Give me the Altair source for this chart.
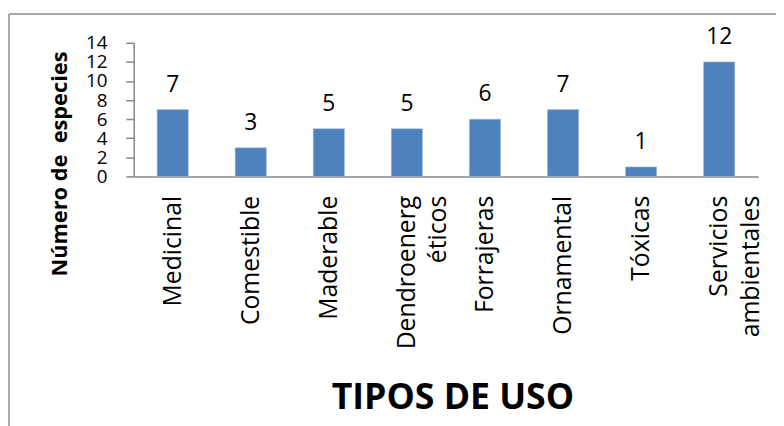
import altair as alt
import pandas as pd

categories = ["Medicinal", "Comestible", "Maderable", "Dendroenerg|éticos",
              "Forrajeras", "Ornamental", "Tóxicas", "Servicios|ambientales"]
values = [7, 3, 5, 5, 6, 7, 1, 12]
y_ticks = [0, 2, 4, 6, 8, 10, 12, 14]

df = pd.DataFrame({"tipo": categories, "n": values})

FONT = "Open Sans"
GRAY = "#868686"

x_scale = alt.Scale(paddingInner=0.6, paddingOuter=0.3)
y_scale = alt.Scale(domain=[0, 14], nice=False, zero=True)

x_enc = alt.X(
    "tipo:N", sort=None, scale=x_scale,
    axis=alt.Axis(
        title="TIPOS DE USO", titleFont=FONT, titleFontSize=36, titleFontWeight="bold",
        titleColor="black", titleAlign="center", titleBaseline="alphabetic",
        titleX=322, titleY=234, titleAngle=0,
        labelAngle=-90, labelAlign="right", labelBaseline="middle",
        labelFont=FONT, labelFontSize=25, labelColor="black", labelLineHeight=32,
        labelPadding=19, labelExpr="split(datum.label, '|')", labelOverlap=False,
        ticks=False, tickSize=0, domainColor=GRAY, domainWidth=1.5,
    ),
)
y_enc = alt.Y(
    "n:Q", scale=y_scale,
    axis=alt.Axis(
        title="Número de\u00a0 especies", titleFont=FONT, titleFontSize=22,
        titleFontWeight="bold", titleColor="black", titleAngle=-90,
        titleAlign="center", titleBaseline="middle", titleX=-75, titleY=122,
        values=y_ticks, tickCount=8, grid=False, labelFont=FONT, labelFontSize=19,
        labelColor="black", labelPadding=19, labelOverlap=False, labelFlush=False,
        labelBound=False,
        tickSize=8, tickColor=GRAY, tickWidth=1.5, domainColor=GRAY, domainWidth=1.5,
    ),
)

base = alt.Chart(df)
bars = base.mark_bar(color="#4F81BD", stroke="#A7C0DE", strokeWidth=0.6).encode(x=x_enc, y=y_enc)
text = base.mark_text(baseline="alphabetic", dy=-18, font=FONT, fontSize=23, color="black").encode(
    x=x_enc, y=y_enc, text="n:Q")

frame_data = alt.Data(values=[{"a": 1}])
top_rule = alt.Chart(frame_data).mark_rule(color="#8C8C8C", strokeWidth=1.5).encode(
    x=alt.value(-126), x2=alt.value(660), y=alt.value(-29))
left_rule = alt.Chart(frame_data).mark_rule(color="#8C8C8C", strokeWidth=1.5).encode(
    x=alt.value(-126), y=alt.value(-29), y2=alt.value(400))

chart = alt.layer(bars, text, top_rule, left_rule).properties(
    width=631, height=135,
    autosize=alt.AutoSizeParams(type="none"),
    padding={"left": 127, "top": 33, "right": 18, "bottom": 250},
).configure_view(stroke=None)

chart.save("out.html", embed_options={"renderer": "svg", "actions": False})
